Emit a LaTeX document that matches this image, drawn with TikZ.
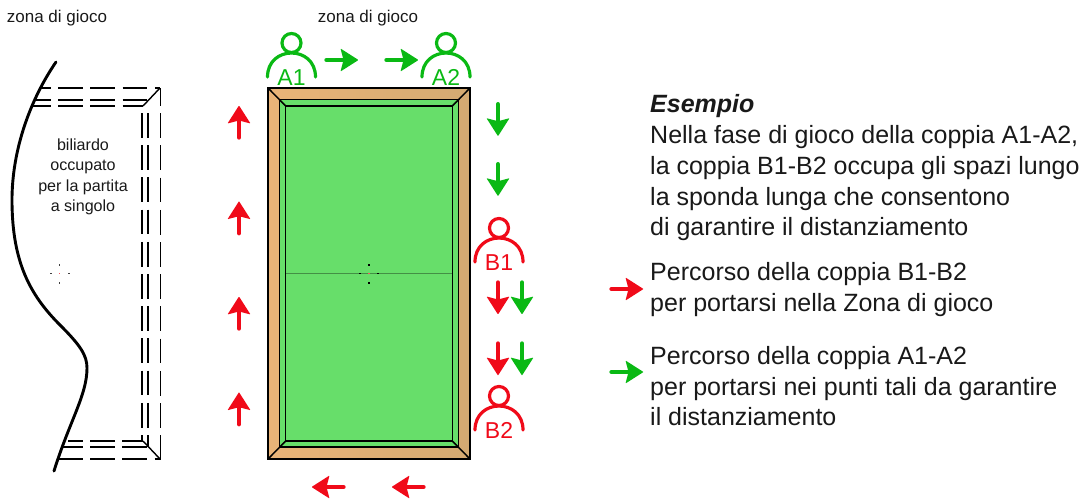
\documentclass[tikz,border=0pt]{standalone}
\usepackage{fontspec}
\setmainfont{Liberation Sans}
\definecolor{redA}{RGB}{240,10,25}
\definecolor{greenA}{RGB}{10,185,20}
\definecolor{cloth}{RGB}{103,222,106}
\definecolor{woodL}{RGB}{234,180,120}
\definecolor{woodR}{RGB}{212,170,114}
\definecolor{txt}{RGB}{25,25,25}
\tikzset{
 x=1pt,y=-1pt,
 lab/.style={inner sep=0,font=\fontsize{25}{25}\selectfont,text=txt,anchor=base west},
 small/.style={inner sep=0,font=\fontsize{17}{17}\selectfont,text=txt,anchor=base},
 bil/.style={inner sep=0,font=\fontsize{16.1}{16.1}\selectfont,text=txt,anchor=base},
 player/.style={inner sep=0,font=\fontsize{23}{23}\selectfont,anchor=base},
 tbl/.style={black,line width=1.5pt},
 dsh/.style={black,line width=1.2pt,dash pattern=on 24.7pt off 7.5pt},
 dshb/.style={black,line width=1.6pt,dash pattern=on 24.7pt off 7.5pt},
 edge/.style={black,line width=2.9pt,line cap=round},
 diag/.style={black,line width=1.4pt},
}
\newcommand{\arw}[4]{% x y rot colour
 \begin{scope}[shift={(#1,#2)},rotate=#3]
  \draw[#4,line width=4.4pt,line cap=round] (-14.5,0)--(8,0);
  \fill[#4,rounded corners=.6pt] (17.5,0)--(-.5,-11.5)--(2.5,0)--(-.5,11.5)--cycle;
 \end{scope}}
\newcommand{\pers}[4]{% x y colour label
 \begin{scope}[shift={(#1,#2)}]
  \draw[#3,line width=3.2pt] (0,-9) circle (9.5);
  \draw[#3,line width=3.2pt,line cap=round] (-24,25) .. controls (-24,9) and (-12,1) .. (0,1) .. controls (12,1) and (24,9) .. (24,25);
  \node[player,text=#3] at (0,33.5) {#4};
 \end{scope}}
\newcommand{\cmark}[3]{% x y colour
  \fill[redA!70] (#1-.7,#2-.7) rectangle (#1+.7,#2+.7);
  \fill[#3] (#1-.8,#2-10) rectangle (#1+.8,#2-8);
  \fill[#3] (#1-.8,#2+8) rectangle (#1+.8,#2+10);
  \fill[#3] (#1-10,#2-.8) rectangle (#1-8,#2+.8);
  \fill[#3] (#1+8,#2-.8) rectangle (#1+10,#2+.8);
}
\begin{document}
\begin{tikzpicture}
\useasboundingbox (0,0) rectangle (1084,498);
\node[small] (z1) at (57,22.7) {zona di gioco};
\node[small] (z2) at (368,22.7) {zona di gioco};
\node[bil] (b1) at (83,150.7) {biliardo};
\node[bil] (b2) at (83,170.7) {occupato};
\node[bil] (b3) at (83,191) {per la partita};
\node[bil] (b4) at (83,211) {a singolo};
% left partial table
\draw[dshb,dash phase=7] (160.5,88)--(160.5,459);
\draw[dsh] (142,113)--(142,441);
\draw[dsh] (148,113)--(148,447);
\draw[dsh,dash phase=14] (40,88)--(160,88);
\draw[dsh,dash phase=10] (36,100)--(149,100);
\draw[dsh,dash phase=7] (33,106)--(143,106);
\draw[dsh,dash phase=10] (68,441)--(143,441);
\draw[dsh,dash phase=5] (63,447)--(148,447);
\draw[dsh] (58,459)--(161,459);
\draw[diag] (143,106)--(160,88);
\draw[diag] (143,441)--(160,459);
\draw[edge] (56,62) .. controls (30,100) and (12,150) .. (12,200)
  .. controls (12,262) and (30,295) .. (60,325)
  .. controls (80,345) and (87,355) .. (87,368)
  .. controls (87,395) and (70,420) .. (54,471);
\cmark{59.5}{273.5}{black!75}
% main table
\shade[left color=woodL,right color=woodR] (268,88) rectangle (470,459);
\draw[tbl] (268,88) rectangle (470,459);
\fill[cloth,draw=black,line width=1.5pt] (279.5,99.5) rectangle (458.5,447);
\draw[tbl] (285.7,106) rectangle (452.3,441);
\draw[tbl] (268,88)--(285.7,106) (470,88)--(452.3,106) (268,459)--(285.7,441) (470,459)--(452.3,441);
\draw[black!35!cloth,line width=.8pt] (286,273)--(452,273);
\cmark{369}{273.5}{black}
\pers{291.5}{52}{greenA}{A1}
\pers{446}{52}{greenA}{A2}
\pers{499}{237}{redA}{B1}
\pers{499}{405}{redA}{B2}
% arrows
\arw{341}{60}{0}{greenA}
\arw{401}{60}{0}{greenA}
\arw{498}{118.7}{-90}{greenA}
\arw{498}{178.7}{-90}{greenA}
\arw{522}{297}{-90}{greenA}
\arw{522}{358}{-90}{greenA}
\arw{498}{297}{-90}{redA}
\arw{498}{358}{-90}{redA}
\arw{239}{123}{90}{redA}
\arw{239}{218.7}{90}{redA}
\arw{239}{314}{90}{redA}
\arw{239}{409.7}{90}{redA}
\arw{329}{487}{180}{redA}
\arw{409}{487}{180}{redA}
\arw{626}{289}{0}{redA}
\arw{626}{372}{0}{greenA}
% text
\node[lab,font=\fontsize{25}{25}\selectfont\bfseries\itshape] (t0) at (650,112.7) {Esempio};
\node[lab] (t1) at (650,143) {Nella fase di gioco della coppia A1-A2,};
\node[lab] (t2) at (650,174) {la coppia B1-B2 occupa gli spazi lungo};
\node[lab] (t3) at (650,205) {la sponda lunga che consentono};
\node[lab] (t4) at (650,235) {di garantire il distanziamento};
\node[lab] (t5) at (650,280) {Percorso della coppia B1-B2};
\node[lab] (t6) at (650,311) {per portarsi nella Zona di gioco};
\node[lab] (t7) at (650,364) {Percorso della coppia A1-A2};
\node[lab] (t8) at (650,395) {per portarsi nei punti tali da garantire};
\node[lab] (t9) at (650,425) {il distanziamento};
\end{tikzpicture}
\end{document}
